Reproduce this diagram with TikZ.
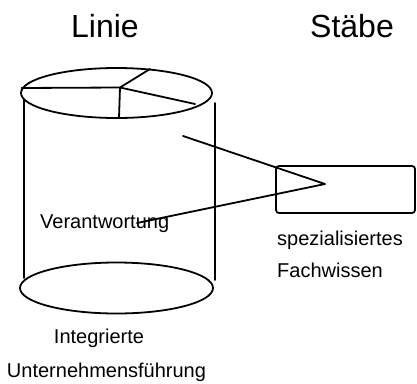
\documentclass[tikz,border=0pt]{standalone}
\usepackage{fontspec}
\setmainfont{Liberation Sans}
\usetikzlibrary{shapes.geometric}
\begin{document}
\begin{tikzpicture}[x=1pt,y=-1pt,
  ln/.style={line width=1.8pt,line cap=round,line join=round},
  ell/.style={ellipse,draw,line width=1.8pt,inner sep=0pt},
  title/.style={font=\fontsize{32}{36}\selectfont,anchor=base,inner sep=0pt},
  lbl/.style={font=\fontsize{20}{24}\selectfont,anchor=base west,inner sep=0pt}]
\useasboundingbox (0,0) rectangle (417,383);
% titles
\node[title] (linie) at (105,37) {Linie};
\node[title] (staebe) at (352,37) {Stäbe};
% top ellipse
\node[ell,minimum width=191pt,minimum height=50pt] (top) at (116.5,93) {};
\coordinate (c) at (120,87.5);
\coordinate (pl) at (21.5,88);
\coordinate (pu) at (150,69);
\coordinate (pr) at (195,104);
\coordinate (pb) at (119,118);
\draw[ln] (pl) -- (c) -- (pu);
\draw[ln] (c) -- (pr);
\draw[ln] (c) -- (pb);
% cylinder sides
\coordinate (lt) at (24,100);
\coordinate (lb) at (24,278);
\coordinate (rt) at (215,103);
\coordinate (rb) at (215,280);
\draw[ln] (lt) -- (lb);
\draw[ln] (rt) -- (rb);
% bottom ellipse
\node[ell,minimum width=193pt,minimum height=51pt] (bot) at (116.5,288) {};
% box
\node[draw,line width=1.8pt,rounded corners=3pt,minimum width=139pt,minimum height=47pt,inner sep=0pt] (box) at (345.5,189.5) {};
% triangle
\coordinate (t1) at (183,136);
\coordinate (tip) at (325,184);
\coordinate (t2) at (137,223);
\draw[ln] (t1) -- (tip) -- (t2);
% labels
\node[lbl] (ver) at (40,228) {Verantwortung};
\node[lbl] (spez) at (277,245) {spezialisiertes};
\node[lbl] (fach) at (277,277) {Fachwissen};
\node[font=\fontsize{20}{24}\selectfont,anchor=base,inner sep=0pt] (integ) at (99,343) {Integrierte};
\node[font=\fontsize{20}{24}\selectfont,anchor=base,inner sep=0pt] (unt) at (106.5,377) {Unternehmensführung};
\end{tikzpicture}
\end{document}
